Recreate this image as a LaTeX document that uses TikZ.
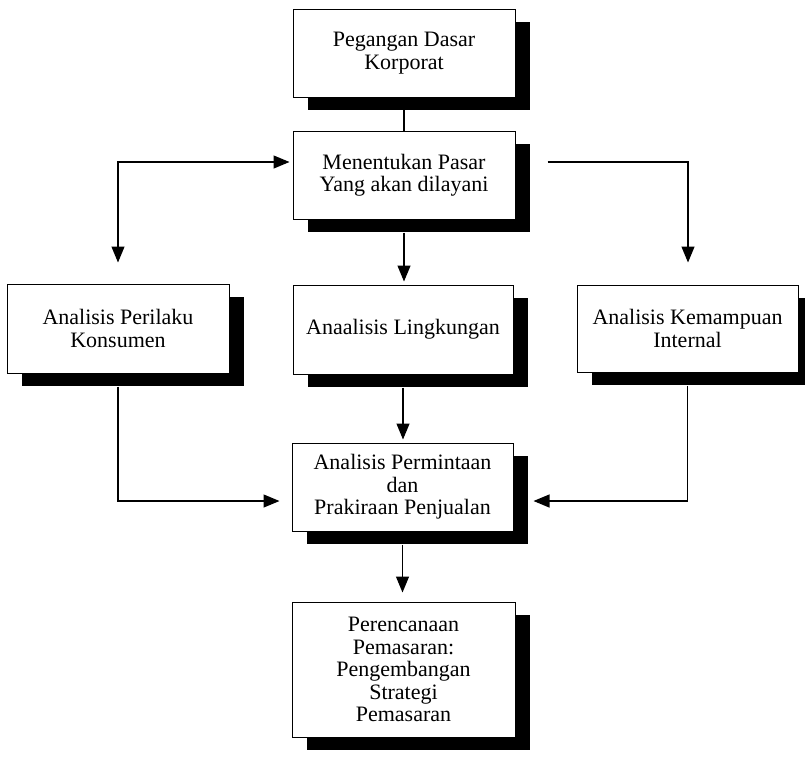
\documentclass[tikz,border=0pt]{standalone}
\usepackage{fontspec}
\setmainfont{Liberation Serif}
\usetikzlibrary{arrows.meta,shadows}
\begin{document}
\begin{tikzpicture}[x=1pt,y=-1pt,
  box/.style={draw=black, line width=1pt, fill=white, inner sep=0pt, align=center,
    font=\fontsize{22}{22.5}\selectfont,
    drop shadow={shadow xshift=15pt, shadow yshift=-13pt, fill=black, opacity=1}},
  conn/.style={line width=1.2pt, draw=black},
  tip/.tip={Triangle[length=16pt,width=13pt]},
  arr/.style={conn, -tip}
]
\useasboundingbox (0,0) rectangle (805,756);
\node[box, minimum width=222pt, minimum height=88pt] (B1) at (404,53) {Pegangan Dasar\\Korporat};
\node[box, minimum width=222pt, minimum height=88pt] (B2) at (404,175) {Menentukan Pasar\\Yang akan dilayani};
\node[box, minimum width=222pt, minimum height=89pt] (BL) at (118,328.5) {Analisis Perilaku\\Konsumen};
\node[box, minimum width=220pt, minimum height=89pt] (BM) at (403,329.5) {Anaalisis Lingkungan};
\node[box, minimum width=221pt, minimum height=87pt] (BR) at (687.5,328.5) {Analisis Kemampuan\\Internal};
\node[box, minimum width=221pt, minimum height=88pt] (B4) at (402.5,487) {Analisis Permintaan\\dan\\Prakiraan Penjualan};
\node[box, minimum width=223pt, minimum height=135pt] (B5) at (403.5,669.5) {Perencanaan\\Pemasaran:\\Pengembangan\\Strategi\\Pemasaran};

\coordinate (jl) at (118,162);
\coordinate (jr) at (688,162);
\coordinate (jb) at (403,501);

\draw[conn] (B1.south) -- (B2.north);
\draw[conn, tip-tip, shorten <=3pt, shorten >=21pt] (jl -| B2.west) -- (jl) -- (jl |- BL.north);
\draw[arr, shorten <=32pt, shorten >=22pt] (jr -| B2.east) -- (jr) -- (jr |- BR.north);
\draw[arr, shorten <=13pt, shorten >=3pt] (B2.south) -- (B2.south |- BM.north);
\draw[arr, shorten <=13pt, shorten >=3pt] (BM.south) -- (BM.south |- B4.north);
\draw[arr, shorten <=13pt, shorten >=12pt] (BL.south) -- (BL.south |- jb) -- (jb -| B4.west);
\draw[arr, shorten <=13pt, shorten >=20pt] (BR.south) -- (BR.south |- jb) -- (jb -| B4.east);
\draw[arr, shorten <=13pt, shorten >=9pt] (B4.south) -- (B4.south |- B5.north);
\end{tikzpicture}
\end{document}
